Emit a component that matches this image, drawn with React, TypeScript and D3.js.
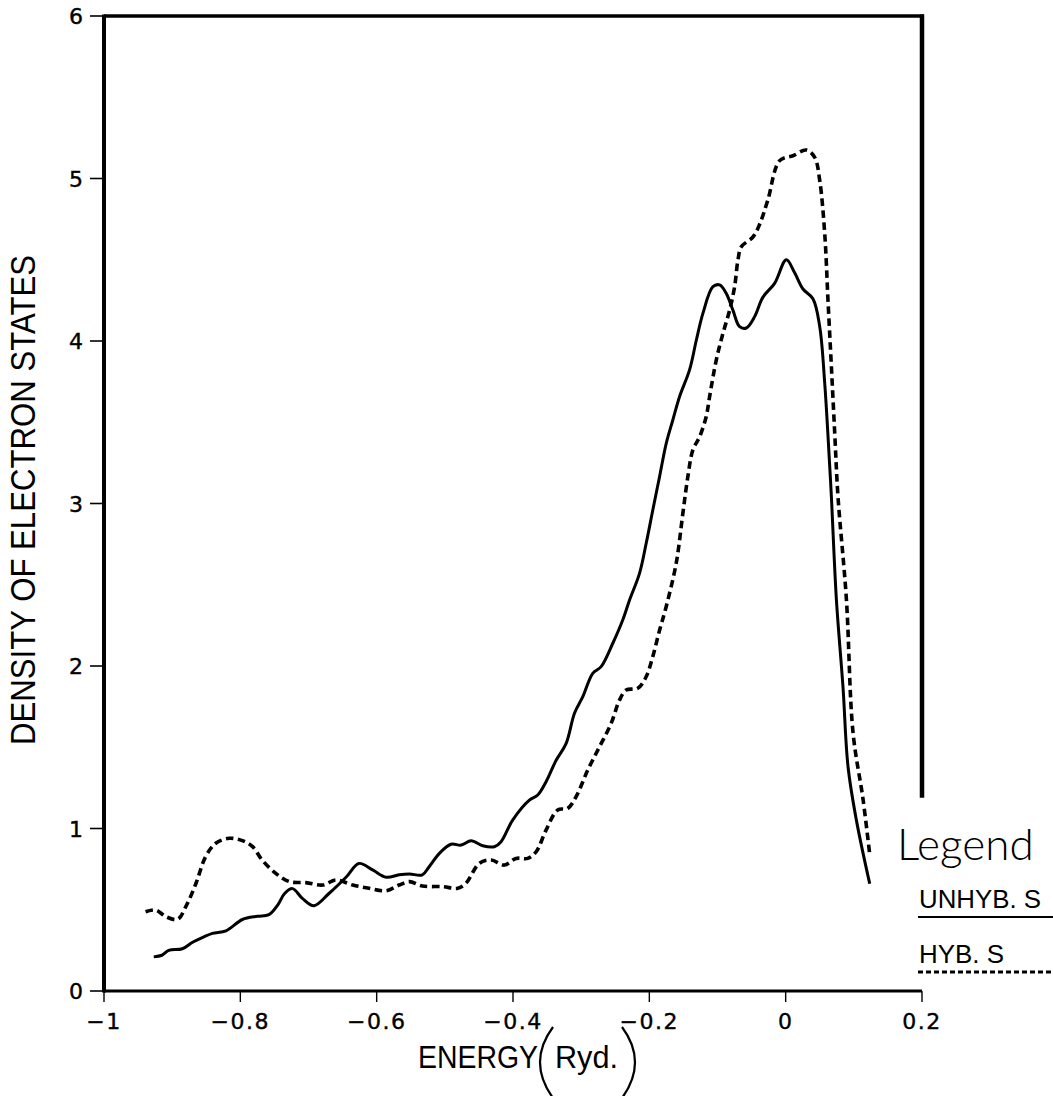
import React from "react";
import * as d3 from "d3";

// ---- data ----
const xTicks = [-1, -0.8, -0.6, -0.4, -0.2, 0, 0.2];
const yTicks = [0, 1, 2, 3, 4, 5, 6];
const xTickLabels = ["\u22121", "\u22120.8", "\u22120.6", "\u22120.4", "\u22120.2", "0", "0.2"];
const yTickLabels = ["0", "1", "2", "3", "4", "5", "6"];

const energyUnhyb = [
  -0.927, -0.915, -0.905, -0.885, -0.87, -0.855, -0.841, -0.821, -0.797, -0.775, -0.758, -0.745,
  -0.735, -0.7235, -0.709, -0.692, -0.67, -0.645, -0.626, -0.606, -0.586, -0.567, -0.552, -0.533,
  -0.523, -0.508, -0.491, -0.476, -0.4615, -0.4445, -0.4273, -0.4175, -0.4005, -0.376, -0.3637,
  -0.3515, -0.3367, -0.322, -0.3098, -0.2976, -0.283, -0.2707, -0.2536, -0.239, -0.229, -0.2144,
  -0.2046, -0.1949, -0.185, -0.1752, -0.1655, -0.1557, -0.141, -0.131, -0.1214, -0.1067, -0.0969,
  -0.0871, -0.0774, -0.0676, -0.0577, -0.0455, -0.0333, -0.0162, 0.001, 0.0132, 0.0254, 0.04,
  0.0499, 0.0573, 0.0646, 0.0671, 0.0744, 0.0841, 0.0915, 0.1038, 0.1233,
];
const dosUnhyb = [
  0.21, 0.22, 0.25, 0.26, 0.3, 0.33, 0.355, 0.37, 0.44, 0.46, 0.47, 0.53,
  0.6, 0.63, 0.57, 0.525, 0.6, 0.7, 0.785, 0.745, 0.7, 0.715, 0.72, 0.715,
  0.765, 0.847, 0.903, 0.898, 0.925, 0.894, 0.888, 0.919, 1.052, 1.175, 1.206,
  1.288, 1.42, 1.524, 1.709, 1.811, 1.955, 1.996, 2.14, 2.283, 2.406, 2.57,
  2.755, 2.96, 3.165, 3.37, 3.514, 3.657, 3.822, 4.006, 4.17, 4.334, 4.345,
  4.293, 4.19, 4.088, 4.08, 4.15, 4.27, 4.355, 4.5, 4.42, 4.32, 4.26,
  4.09, 3.74, 3.23, 3.04, 2.41, 1.87, 1.38, 1.05, 0.66,
];

const energyHyb = [
  -0.939, -0.924, -0.909, -0.892, -0.88, -0.865, -0.851, -0.836, -0.8164, -0.797, -0.782, -0.768,
  -0.748, -0.728, -0.704, -0.679, -0.66, -0.635, -0.611, -0.586, -0.567, -0.552, -0.533, -0.503,
  -0.481, -0.469, -0.4493, -0.432, -0.4126, -0.3955, -0.3784, -0.366, -0.3515, -0.3344, -0.3197,
  -0.3074, -0.2903, -0.2731, -0.256, -0.2438, -0.234, -0.217, -0.2047, -0.195, -0.185, -0.1753,
  -0.1606, -0.1508, -0.1435, -0.1361, -0.1263, -0.1166, -0.1116, -0.1018, -0.092, -0.0822, -0.0749,
  -0.07, -0.065, -0.048, -0.038, -0.026, -0.0088, 0.0107, 0.0304, 0.0426, 0.0499, 0.0573, 0.0621,
  0.0671, 0.072, 0.0768, 0.0891, 0.0988, 0.1135, 0.1233,
];
const dosHyb = [
  0.488, 0.498, 0.457, 0.441, 0.519, 0.663, 0.826, 0.909, 0.94, 0.925, 0.888, 0.806,
  0.724, 0.673, 0.667, 0.652, 0.683, 0.652, 0.632, 0.617, 0.652, 0.673, 0.646, 0.642,
  0.632, 0.663, 0.786, 0.806, 0.775, 0.816, 0.816, 0.857, 0.99, 1.114, 1.124,
  1.196, 1.36, 1.503, 1.647, 1.79, 1.852, 1.863, 1.934, 2.057, 2.22, 2.365,
  2.632, 2.94, 3.165, 3.33, 3.41, 3.534, 3.657, 3.883, 4.047, 4.19, 4.334,
  4.498, 4.58, 4.64, 4.72, 4.87, 5.11, 5.14, 5.175, 5.13, 4.99, 4.66, 4.25,
  3.84, 3.43, 3.04, 2.41, 1.59, 1.18, 0.84,
];

const rightFrameEnd = 1.19; // right border stops here (data units)

const W = 1053;
const H = 1096;

export default function App() {
  const x = d3.scaleLinear().domain([-1, 0.2]).range([104, 922]);
  const y = d3.scaleLinear().domain([0, 6]).range([991, 16]);

  const line = d3
    .line<[number, number]>()
    .x((d) => x(d[0]))
    .y((d) => y(d[1]))
    .curve(d3.curveCatmullRom.alpha(0.5));

  const unhyb: [number, number][] = energyUnhyb.map((e, i) => [e, dosUnhyb[i]]);
  const hyb: [number, number][] = energyHyb.map((e, i) => [e, dosHyb[i]]);

  const tickFont = "'DejaVu Sans', sans-serif";
  const titleFont = "'Liberation Sans', 'DejaVu Sans', sans-serif";

  const x0 = x(-1);
  const x1 = x(0.2);
  const yTop = y(6);
  const yBot = y(0);

  return (
    <svg
      width={W}
      height={H}
      viewBox={`0 0 ${W} ${H}`}
      style={{ position: "absolute", left: 0, top: 0, display: "block", background: "#fff" }}
    >
      <rect x={0} y={0} width={W} height={H} fill="#fff" />

      {/* frame */}
      <line x1={x0} y1={yTop} x2={x1 + 2} y2={yTop} stroke="#000" strokeWidth={3.5} />
      <line x1={x0} y1={yTop - 1.5} x2={x0} y2={yBot + 1.5} stroke="#000" strokeWidth={4} />
      <line x1={x0} y1={yBot} x2={x1} y2={yBot} stroke="#000" strokeWidth={3} />
      <line x1={x1} y1={yTop - 1.5} x2={x1} y2={y(rightFrameEnd)} stroke="#000" strokeWidth={4.5} />

      {/* y ticks */}
      {yTicks.map((t, i) => (
        <g key={"yt" + t}>
          <line x1={x0 - 14} y1={y(t)} x2={x0} y2={y(t)} stroke="#000" strokeWidth={1.6} />
          <text
            x={x0 - 21}
            y={y(t) + 2}
            textAnchor="end"
            dominantBaseline="middle"
            fontFamily={tickFont}
            fontSize={22}
            stroke="#000"
            strokeWidth={0.4}
            fill="#000"
          >
            {yTickLabels[i]}
          </text>
        </g>
      ))}

      {/* x ticks */}
      {xTicks.map((t, i) => (
        <g key={"xt" + t}>
          <line x1={x(t)} y1={yBot} x2={x(t)} y2={yBot + 11} stroke="#000" strokeWidth={1.4} />
          <text
            x={x(t)}
            y={yBot + 38}
            textAnchor="middle"
            fontFamily={tickFont}
            fontSize={22}
            letterSpacing={1.5}
            stroke="#000"
            strokeWidth={0.4}
            fill="#000"
          >
            {xTickLabels[i]}
          </text>
        </g>
      ))}

      {/* curves */}
      <path d={line(unhyb) || ""} fill="none" stroke="#000" strokeWidth={3} strokeLinejoin="round" />
      <path
        d={line(hyb) || ""}
        fill="none"
        stroke="#000"
        strokeWidth={3.6}
        strokeDasharray="7.5,4.5"
      />

      {/* y-axis title */}
      <text
        transform={`translate(35,500) rotate(-90)`}
        textAnchor="middle"
        fontFamily={titleFont}
        fontSize={35}
        textLength={490}
        lengthAdjust="spacingAndGlyphs"
        fill="#000"
      >
        DENSITY OF ELECTRON STATES
      </text>

      {/* x-axis title */}
      <text
        x={418}
        y={1068}
        fontFamily={titleFont}
        fontSize={31}
        textLength={120}
        lengthAdjust="spacingAndGlyphs"
        fill="#000"
      >
        ENERGY
      </text>
      <path d="M553,1027 Q527,1062 553,1098" fill="none" stroke="#000" strokeWidth={2.2} />
      <text
        x={555}
        y={1068}
        fontFamily={titleFont}
        fontSize={31}
        textLength={63}
        lengthAdjust="spacingAndGlyphs"
        fill="#000"
      >
        Ryd.
      </text>
      <path d="M622,1027 Q648,1062 622,1098" fill="none" stroke="#000" strokeWidth={2.2} />

      {/* legend */}
      <text x={897} y={860} fontFamily="Lato, 'Open Sans', sans-serif" fontWeight={300} fontSize={44} fill="#000">
        Legend
      </text>
      <text x={919} y={908} fontFamily={titleFont} fontSize={25} textLength={122} lengthAdjust="spacingAndGlyphs" fill="#000">
        UNHYB. S
      </text>
      <line x1={918} y1={917} x2={1053} y2={917} stroke="#000" strokeWidth={2.2} />
      <text x={919} y={963} fontFamily={titleFont} fontSize={25} textLength={85} lengthAdjust="spacingAndGlyphs" fill="#000">
        HYB. S
      </text>
      <line x1={918} y1={972} x2={1053} y2={972} stroke="#000" strokeWidth={3} strokeDasharray="5,3" />
    </svg>
  );
}
